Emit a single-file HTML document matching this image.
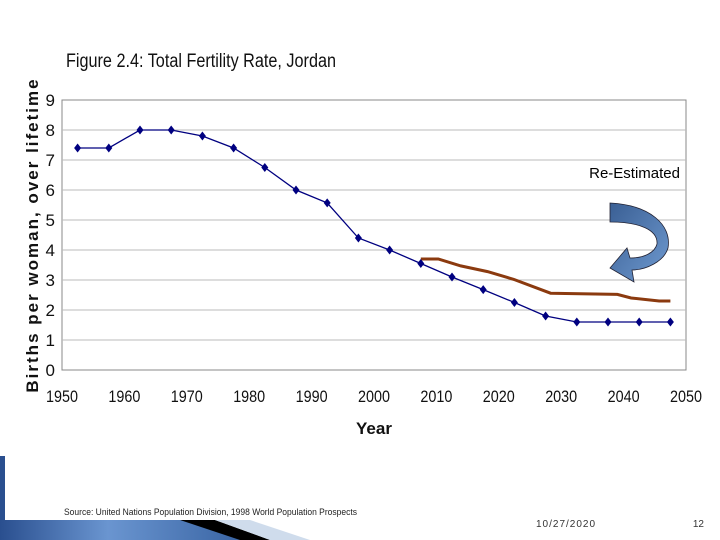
<!DOCTYPE html>
<html><head><meta charset="utf-8"><style>
body{margin:0;background:#fff;font-family:"Liberation Sans",sans-serif}
svg{display:block}
</style></head><body>
<svg width="720" height="540" viewBox="0 0 720 540">
<defs>
<linearGradient id="ag" x1="0" y1="0" x2="1" y2="1"><stop offset="0" stop-color="#3a5f94"/><stop offset="1" stop-color="#6f9ad0"/></linearGradient>
<linearGradient id="bg" x1="0" y1="0" x2="1" y2="0"><stop offset="0" stop-color="#2a4f8f"/><stop offset="0.4" stop-color="#6a95d0"/><stop offset="1" stop-color="#2f5a9a"/></linearGradient>
</defs>
<text x="66" y="67" font-size="19" fill="#111" textLength="270" lengthAdjust="spacingAndGlyphs">Figure 2.4: Total Fertility Rate, Jordan</text>
<rect x="62" y="100" width="624" height="270" fill="#fff" stroke="#888"/>
<g id="grid"></g>
<g id="yt" font-size="17" fill="#111" text-anchor="end"></g>
<g id="xt" font-size="17" fill="#111" text-anchor="middle"></g>
<text transform="translate(38,235) rotate(-90)" text-anchor="middle" font-size="17" font-weight="bold" letter-spacing="2" fill="#111">Births per woman, over lifetime</text>
<text x="374" y="434" text-anchor="middle" font-size="17" font-weight="bold" fill="#111">Year</text>
<polyline id="reLine" fill="none" stroke="#8b3a0f" stroke-width="3"/>
<polyline id="mainLine" fill="none" stroke="#000080" stroke-width="1.3"/>
<g id="marks" fill="#000080"></g>
<text x="680" y="178" text-anchor="end" font-size="15" fill="#000">Re-Estimated</text>
<path d="M610,203 C650,205 672,225 668,248 C664,262 645,270 632,270 L634,282 L610,268 L627,248 L630,258 C645,258 655,252 657,244 C658,230 640,222 610,222 Z" fill="url(#ag)" stroke="#223" stroke-width="0.8"/>
<text x="64" y="515" font-size="9.5" fill="#222" textLength="293" lengthAdjust="spacingAndGlyphs">Source: United Nations Population Division, 1998 World Population Prospects</text>
<text x="536" y="527" font-size="10" fill="#333" letter-spacing="1">10/27/2020</text>
<text x="704" y="527" font-size="10" fill="#333" text-anchor="end">12</text>
<rect x="0" y="456" width="5" height="84" fill="#2a4f8f"/>
<polygon points="0,520 180,520 270,540 0,540" fill="url(#bg)"/>
<polygon points="180,520 215,520 270,540 240,540" fill="#000"/>
<polygon points="215,520 250,520 310,540 270,540" fill="#cfdcec"/>
</svg>
<script>
const years=[1952.5,1957.5,1962.5,1967.5,1972.5,1977.5,1982.5,1987.5,1992.5,1997.5,2002.5,2007.5,2012.5,2017.5,2022.5,2027.5,2032.5,2037.5,2042.5,2047.5];
const tfr=[7.4,7.4,8.0,8.0,7.8,7.4,6.75,6.0,5.57,4.4,4.0,3.55,3.1,2.68,2.25,1.8,1.6,1.6,1.6,1.6];
const reYears=[2007.5,2010.3,2013.9,2018.2,2022.4,2028.3,2039,2041.2,2045.7,2047.5];
const reTfr=[3.7,3.7,3.47,3.28,3.02,2.56,2.52,2.4,2.3,2.3];
const yTicks=[0,1,2,3,4,5,6,7,8,9];
const xTicks=[1950,1960,1970,1980,1990,2000,2010,2020,2030,2040,2050];
const X=v=>62+(v-1950)*6.24, Y=v=>370-v*30;
const NS='http://www.w3.org/2000/svg';
function mk(t,p,a){const e=document.createElementNS(NS,t);for(const k in a)e.setAttribute(k,a[k]);p.appendChild(e);return e;}
const g=document.getElementById('grid'),yt=document.getElementById('yt'),xt=document.getElementById('xt');
yTicks.forEach(v=>{
 if(v>0&&v<9){const l=mk('line',g,{x1:62,x2:686,y1:Y(v),y2:Y(v),stroke:'#bbb'});
 
 }
 const t=mk('text',yt,{x:55,y:Y(v)+6});t.textContent=v;
 
 
});
xTicks.forEach(v=>{const t=mk('text',xt,{x:X(v),y:402,textLength:32,lengthAdjust:'spacingAndGlyphs'});t.textContent=v;
 
 });
document.getElementById('mainLine').setAttribute('points',years.map((y,i)=>X(y)+','+Y(tfr[i])).join(' '));
document.getElementById('reLine').setAttribute('points',reYears.map((y,i)=>X(y)+','+Y(reTfr[i])).join(' '));
const m=document.getElementById('marks');
years.forEach((y,i)=>{const x=X(y),yy=Y(tfr[i]);
 const p=mk('polygon',m,{points:`${x},${yy-4.5} ${x+3.5},${yy} ${x},${yy+4.5} ${x-3.5},${yy}`});
 
 });
</script>
</body></html>
